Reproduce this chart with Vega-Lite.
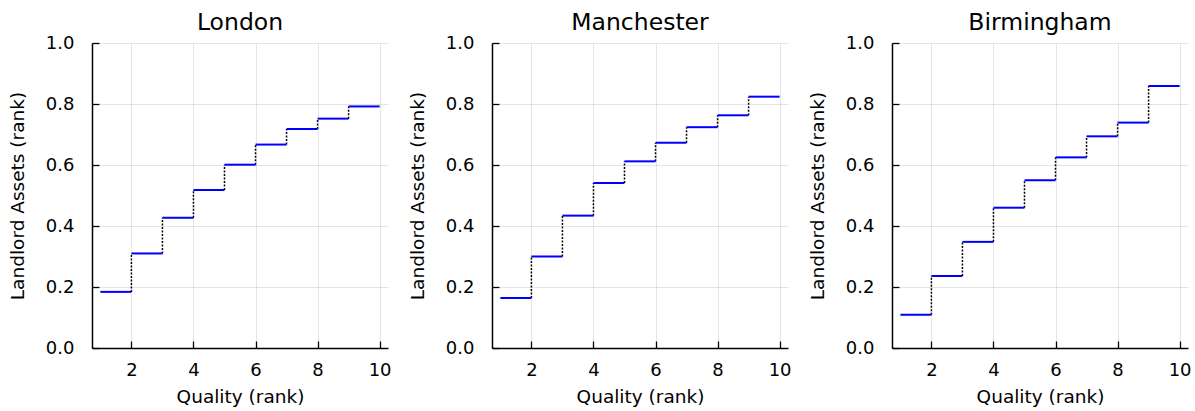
{
  "$schema": "https://vega.github.io/schema/vega-lite/v6.json",
  "padding": {"left": 8, "top": 11, "right": 5, "bottom": 5},
  "background": "white",
  "data": {"values": [
    {"city": "London", "lo": 1, "hi": 2, "value": 0.184},
    {"city": "London", "lo": 2, "hi": 3, "value": 0.310},
    {"city": "London", "lo": 3, "hi": 4, "value": 0.427},
    {"city": "London", "lo": 4, "hi": 5, "value": 0.518},
    {"city": "London", "lo": 5, "hi": 6, "value": 0.601},
    {"city": "London", "lo": 6, "hi": 7, "value": 0.667},
    {"city": "London", "lo": 7, "hi": 8, "value": 0.718},
    {"city": "London", "lo": 8, "hi": 9, "value": 0.752},
    {"city": "London", "lo": 9, "hi": 10, "value": 0.792},
    {"city": "Manchester", "lo": 1, "hi": 2, "value": 0.164},
    {"city": "Manchester", "lo": 2, "hi": 3, "value": 0.300},
    {"city": "Manchester", "lo": 3, "hi": 4, "value": 0.434},
    {"city": "Manchester", "lo": 4, "hi": 5, "value": 0.541},
    {"city": "Manchester", "lo": 5, "hi": 6, "value": 0.612},
    {"city": "Manchester", "lo": 6, "hi": 7, "value": 0.673},
    {"city": "Manchester", "lo": 7, "hi": 8, "value": 0.724},
    {"city": "Manchester", "lo": 8, "hi": 9, "value": 0.763},
    {"city": "Manchester", "lo": 9, "hi": 10, "value": 0.824},
    {"city": "Birmingham", "lo": 1, "hi": 2, "value": 0.109},
    {"city": "Birmingham", "lo": 2, "hi": 3, "value": 0.236},
    {"city": "Birmingham", "lo": 3, "hi": 4, "value": 0.348},
    {"city": "Birmingham", "lo": 4, "hi": 5, "value": 0.460},
    {"city": "Birmingham", "lo": 5, "hi": 6, "value": 0.550},
    {"city": "Birmingham", "lo": 6, "hi": 7, "value": 0.625},
    {"city": "Birmingham", "lo": 7, "hi": 8, "value": 0.694},
    {"city": "Birmingham", "lo": 8, "hi": 9, "value": 0.739},
    {"city": "Birmingham", "lo": 9, "hi": 10, "value": 0.859}
  ]},
  "facet": {
    "column": {
      "field": "city",
      "type": "nominal",
      "sort": ["London", "Manchester", "Birmingham"],
      "header": {"title": null, "labelFontSize": 23.5, "labelFont": "DejaVu Sans", "labelColor": "black", "labelPadding": 8.5}
    }
  },
  "spacing": 104,
  "bounds": "flush",
  "resolve": {"axis": {"x": "independent", "y": "independent"}},
  "spec": {
    "width": 296,
    "height": 305,
    "layer": [
      {
        "transform": [
          {"window": [{"op": "lead", "field": "value", "as": "next"}], "groupby": ["city"], "sort": [{"field": "lo"}]},
          {"filter": "datum.next != null"}
        ],
        "mark": {"type": "rule", "color": "black", "strokeWidth": 1.5, "strokeDash": [2, 1.5]},
        "encoding": {
          "x": {"field": "hi", "type": "quantitative"},
          "y": {"field": "value", "type": "quantitative"},
          "y2": {"field": "next"}
        }
      },
      {
        "mark": {"type": "rule", "color": "#0000ff", "strokeWidth": 2},
        "encoding": {
          "x": {"field": "lo", "type": "quantitative", "scale": {"domain": [0.73, 10.27], "nice": false, "zero": false},
                "axis": {"title": "Quality (rank)", "values": [2, 4, 6, 8, 10], "format": "d"}},
          "x2": {"field": "hi"},
          "y": {"field": "value", "type": "quantitative", "scale": {"domain": [0, 1], "nice": false},
                "axis": {"title": "Landlord Assets (rank)", "values": [0, 0.2, 0.4, 0.6, 0.8, 1.0], "format": ".1f"}}
        }
      }
    ]
  },
  "config": {
    "font": "DejaVu Sans",
    "view": {"stroke": null},
    "axis": {
      "labelFont": "DejaVu Sans",
      "titleFont": "DejaVu Sans",
      "labelFontSize": 18,
      "titleFontSize": 18.5,
      "titleFontWeight": "normal",
      "labelColor": "black",
      "titleColor": "black",
      "domainColor": "black",
      "domainWidth": 1.5,
      "tickColor": "black",
      "tickWidth": 1.3,
      "tickSize": -7,
      "gridColor": "black",
      "gridOpacity": 0.1,
      "gridWidth": 1
    },
    "axisX": {"labelPadding": 20, "titlePadding": 8},
    "axisY": {"labelPadding": 25, "titlePadding": 18}
  }
}
